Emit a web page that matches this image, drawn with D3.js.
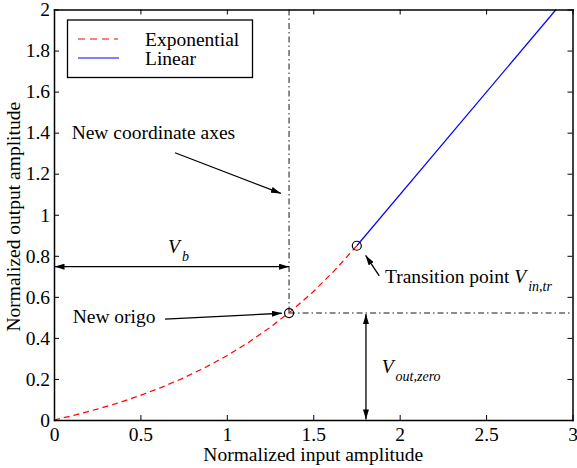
<!DOCTYPE html>
<html><head><meta charset="utf-8">
<script src="https://cdn.jsdelivr.net/npm/d3@7/dist/d3.min.js"></script>
<style>
body{margin:0;background:#fff;}
svg text{font-family:"Liberation Serif","Times New Roman","DejaVu Serif",serif !important;}
</style></head><body>
<svg id="c" width="577" height="468"></svg>
<script>
// ---- data ----
const expX = [0,0.125,0.25,0.375,0.5,0.625,0.75,0.875,1.0,1.125,1.25,1.375,1.5,1.625,1.752];
const expY = [0,0.025,0.053,0.084,0.120,0.160,0.205,0.256,0.313,0.378,0.451,0.533,0.625,0.730,0.849];
const linX = [1.752,2.905];
const linY = [0.849,2.0];
const origo = [1.36,0.521];
const transition = [1.752,0.849];
const xTicks = [0,0.5,1,1.5,2,2.5,3];
const xTickLabels = ["0","0.5","1","1.5","2","2.5","3"];
const yTicks = [0,0.2,0.4,0.6,0.8,1,1.2,1.4,1.6,1.8,2];
const yTickLabels = ["0","0.2","0.4","0.6","0.8","1","1.2","1.4","1.6","1.8","2"];
const seriesNames = ["Exponential","Linear"];
const xLabel = "Normalized input amplitude";
const yLabel = "Normalized output amplitude";

const FONT = "Liberation Serif";
const svg = d3.select("#c").attr("font-family",FONT);
const L=54, R=572.5, T=9.5, B=420;
const x = d3.scaleLinear().domain([0,3]).range([L,R]);
const y = d3.scaleLinear().domain([0,2]).range([B,T]);
const FS = 19.5;

// defs arrow
const defs = svg.append("defs");
defs.append("marker").attr("id","ah").attr("viewBox","0 0 10 6").attr("refX",10).attr("refY",3)
  .attr("markerWidth",10).attr("markerHeight",6).attr("markerUnits","userSpaceOnUse").attr("orient","auto-start-reverse")
  .append("path").attr("d","M0,0 L10,3 L0,6 Z").attr("fill","#000");

// dash-dot guide lines
const gray = "#666";
svg.append("line").attr("x1",x(origo[0])).attr("x2",x(origo[0])).attr("y1",y(2)).attr("y2",y(origo[1]))
  .attr("stroke",gray).attr("stroke-width",1.5).attr("stroke-dasharray","6,3,1.5,3");
svg.append("line").attr("x1",x(origo[0])).attr("x2",x(3)).attr("y1",y(origo[1])).attr("y2",y(origo[1]))
  .attr("stroke",gray).attr("stroke-width",1.5).attr("stroke-dasharray","6,3,1.5,3");

// series
const line = d3.line().x(d=>x(d[0])).y(d=>y(d[1]));
svg.append("path").datum(expX.map((v,i)=>[v,expY[i]])).attr("d",line)
  .attr("fill","none").attr("stroke","#ff0000").attr("stroke-width",1.2).attr("stroke-dasharray","6,4");
svg.append("path").datum(linX.map((v,i)=>[v,linY[i]])).attr("d",line)
  .attr("fill","none").attr("stroke","#0000ff").attr("stroke-width",1.2);

// circles
[origo,transition].forEach(p=>{
  svg.append("circle").attr("cx",x(p[0])).attr("cy",y(p[1])).attr("r",4.5)
    .attr("fill","none").attr("stroke","#000").attr("stroke-width",1.2);
});

// axes
function styleAxis(g){
  g.attr("font-family",FONT).attr("font-size",FS);
  g.selectAll(".domain").attr("stroke","#000").attr("stroke-width",1.5);
  g.selectAll(".tick line").attr("stroke","#000").attr("stroke-width",1);
  g.selectAll("text").attr("font-size",FS).attr("font-family",FONT).attr("fill","#000");
}
svg.append("g").attr("transform",`translate(0,${B})`)
  .call(d3.axisBottom(x).tickValues(xTicks).tickFormat((d,i)=>xTickLabels[i]).tickSizeInner(-5).tickSizeOuter(0).tickPadding(7))
  .call(styleAxis);
svg.append("g").attr("transform",`translate(0,${T})`)
  .call(d3.axisTop(x).tickValues(xTicks).tickFormat("").tickSizeInner(-5).tickSizeOuter(0))
  .call(styleAxis);
svg.append("g").attr("transform",`translate(${L},0)`)
  .call(d3.axisLeft(y).tickValues(yTicks).tickFormat((d,i)=>yTickLabels[i]).tickSizeInner(-5).tickSizeOuter(0).tickPadding(4))
  .call(styleAxis);
svg.append("g").attr("transform",`translate(${R},0)`)
  .call(d3.axisRight(y).tickValues(yTicks).tickFormat("").tickSizeInner(-5).tickSizeOuter(0))
  .call(styleAxis);
svg.selectAll(".domain").attr("stroke-linecap","square");

// axis labels
svg.append("text").attr("x",(L+R)/2).attr("y",461).attr("text-anchor","middle").attr("font-size",FS).text(xLabel);
svg.append("text").attr("transform",`translate(20,${(T+B)/2+2}) rotate(-90)`).attr("text-anchor","middle").attr("font-size",FS).text(yLabel);

// legend
const lg = svg.append("g");
lg.append("rect").attr("x",67.5).attr("y",20).attr("width",185).attr("height",57.5)
  .attr("fill","#fff").attr("stroke","#000").attr("stroke-width",1.3);
lg.append("line").attr("x1",78).attr("x2",118).attr("y1",39).attr("y2",39)
  .attr("stroke","#ff0000").attr("stroke-width",1.2).attr("stroke-dasharray","7,5");
lg.append("line").attr("x1",78).attr("x2",119).attr("y1",58).attr("y2",58)
  .attr("stroke","#0000ff").attr("stroke-width",1.2);
lg.append("text").attr("x",145).attr("y",46).attr("font-size",FS).text(seriesNames[0]);
lg.append("text").attr("x",145).attr("y",64.5).attr("font-size",FS).text(seriesNames[1]);

// annotations (data coordinates)
function arrow(x1,y1,x2,y2,both){
  const l = svg.append("line").attr("x1",x(x1)).attr("y1",y(y1)).attr("x2",x(x2)).attr("y2",y(y2))
    .attr("stroke","#000").attr("stroke-width",1.3).attr("marker-end","url(#ah)");
  if(both) l.attr("marker-start","url(#ah)");
}
function label(xv,yv,txt){
  return svg.append("text").attr("x",x(xv)).attr("y",y(yv)).attr("font-size",FS).text(txt);
}
function vsub(xv,yv,sub,pre){
  const t = svg.append("text").attr("x",x(xv)).attr("y",y(yv)).attr("font-size",FS);
  if(pre) t.append("tspan").text(pre);
  t.append("tspan").attr("font-style","italic").text("V");
  t.append("tspan").attr("font-style","italic").attr("font-size",14).attr("dx",2).attr("dy",8).text(sub);
}
label(0.102,1.369,"New coordinate axes");
arrow(0.700,1.302,1.313,1.104);
vsub(0.66,0.814,"b");
arrow(0.003,0.747,origo[0],0.747,true);
label(0.108,0.473,"New origo");
arrow(0.642,0.491,1.318,0.52);
vsub(1.915,0.666,"in,tr","Transition point ");
arrow(1.882,0.702,1.803,0.802);
vsub(1.896,0.228,"out,zero");
arrow(1.805,origo[1]-0.005,1.805,0.003,true);
</script>
</body></html>
